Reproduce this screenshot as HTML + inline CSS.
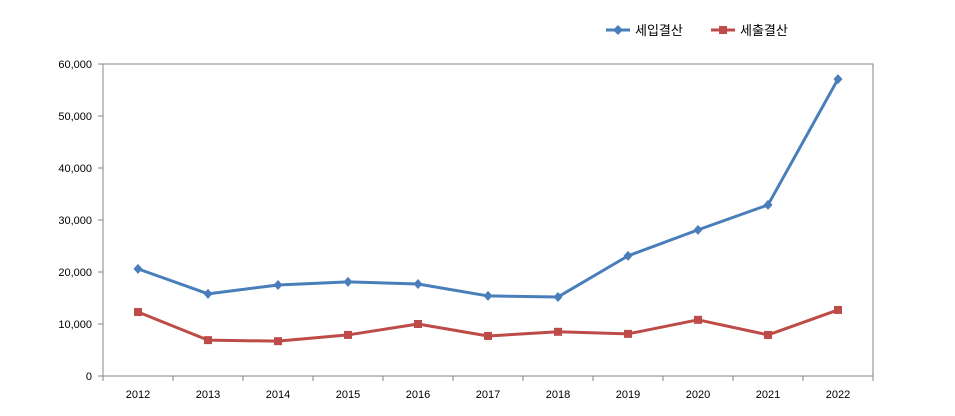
<!DOCTYPE html>
<html><head><meta charset="utf-8">
<style>
html,body{margin:0;padding:0;background:#fff;}
svg{display:block;font-family:"Liberation Sans","Noto Sans CJK KR",sans-serif;}
</style></head>
<body>
<svg id="chart" width="955" height="416" viewBox="0 0 955 416" xmlns="http://www.w3.org/2000/svg">
<rect x="0" y="0" width="955" height="416" fill="#fff"/>
<rect x="103" y="64" width="770" height="312" fill="none" stroke="#868686" stroke-width="1"/>
<g id="axes"></g>
<g id="series"></g>
<g>
  <g>
    <line x1="606" y1="30" x2="630" y2="30" stroke="#4a7ebb" stroke-width="3"/>
    <path d="M618 25 L623 30 L618 35 L613 30 Z" fill="#4a7ebb"/>
    <text x="635" y="35" font-size="13" fill="#000">세입결산</text>
  </g>
  <g>
    <line x1="711" y1="30" x2="735" y2="30" stroke="#be4b48" stroke-width="3"/>
    <rect x="719" y="26" width="8" height="8" fill="#be4b48"/>
    <text x="740" y="35" font-size="13" fill="#000">세출결산</text>
  </g>
</g>
</svg>
<script>
const categories = ["2012","2013","2014","2015","2016","2017","2018","2019","2020","2021","2022"];
const revenue = [20600,15800,17500,18100,17700,15400,15200,23100,28100,32900,57100];
const expenditure = [12300,6900,6700,7900,10000,7700,8500,8100,10800,7900,12700];
const yTicks = [0,10000,20000,30000,40000,50000,60000];
const NS = "http://www.w3.org/2000/svg";
const L=103,R=873,T=64,B=376,YMAX=60000;
const bw=(R-L)/categories.length;
const xPos=i=>L+bw*(i+0.5);
const yPos=v=>B-(v/YMAX)*(B-T);
const axes=document.getElementById('axes');
const series=document.getElementById('series');
function mk(tag,attrs,parent){const e=document.createElementNS(NS,tag);for(const k in attrs)e.setAttribute(k,attrs[k]);parent.appendChild(e);return e;}
yTicks.forEach(v=>{
  const y=yPos(v);
  const t=mk('line',{x1:98,y1:y,x2:103,y2:y,stroke:'#868686'},axes);
  
  
  const tx=mk('text',{x:92,y:y+4,'font-size':11,'text-anchor':'end',fill:'#000'},axes);
  tx.textContent=v.toLocaleString('en-US');
  
  
});
for(let i=0;i<=categories.length;i++){
  const x=L+bw*i;
  const t=mk('line',{x1:x,y1:B,x2:x,y2:B+5,stroke:'#868686'},axes);
  
  
}
categories.forEach((c,i)=>{
  const tx=mk('text',{x:xPos(i),y:398,'font-size':11,'text-anchor':'middle',fill:'#000'},axes);
  tx.textContent=c;
  
  
});
function drawSeries(vals,color,marker,name){
  const pts=vals.map((v,i)=>xPos(i)+','+yPos(v)).join(' ');
  const pl=mk('polyline',{points:pts,fill:'none',stroke:color,'stroke-width':3,'stroke-linejoin':'round'},series);
  
  
  vals.forEach((v,i)=>{
    const x=xPos(i),y=yPos(v);
    let m;
    if(marker==='diamond') m=mk('path',{d:`M${x} ${y-5}L${x+4.5} ${y}L${x} ${y+5}L${x-4.5} ${y}Z`,fill:color},series);
    else m=mk('rect',{x:x-4,y:y-4,width:8,height:8,fill:color},series);
    
    
  });
}
drawSeries(revenue,'#4a7ebb','diamond','revenue');
drawSeries(expenditure,'#be4b48','square','expenditure');
</script>
</body></html>
